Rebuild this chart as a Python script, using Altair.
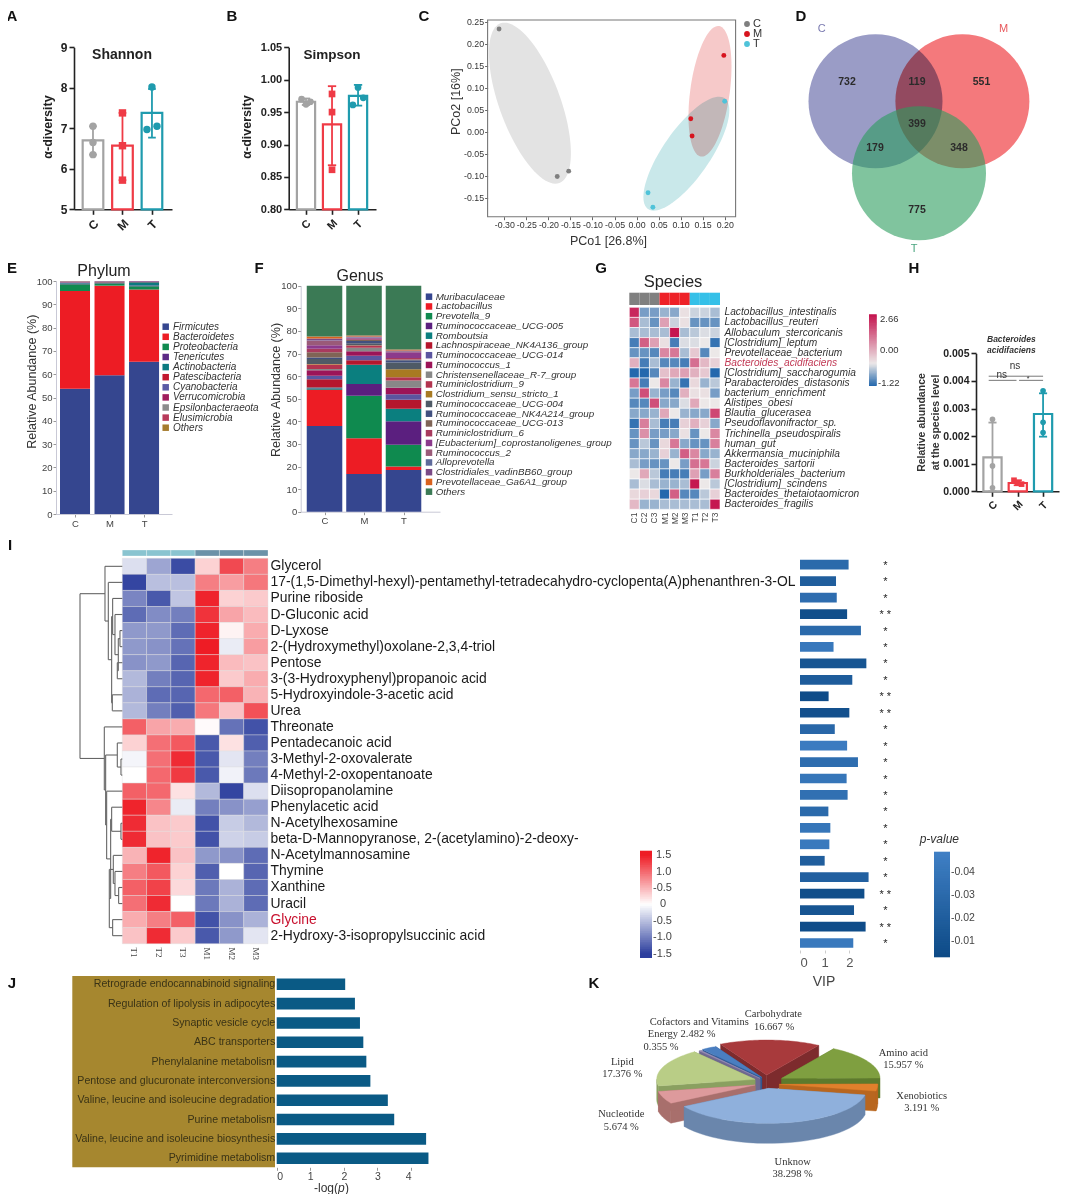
import math
import altair as alt
import numpy as np
import pandas as pd

W, H = 1052, 1186
FONT = "Liberation Sans"
SERIF = "Liberation Serif"
layers = []

# ---------- data ----------
groups3 = [1, 2, 3]
bar_colors = ["#a3a3a3", "#ef3b46", "#1f9bae"]
shannon_mean = [6.70, 6.57, 7.38]
shannon_lo = [6.35, 5.72, 6.77]
shannon_hi = [7.05, 7.38, 7.97]
shannon_pts = [(1, 7.05, 0), (1, 6.65, 0), (1, 6.35, 0), (2, 7.38, 1), (2, 6.57, 1), (2, 5.72, 1),
               (3, 8.02, 2), (2.83, 6.97, 2), (3.17, 7.05, 2)]
simpson_mean = [0.966, 0.931, 0.975]
simpson_lo = [0.961, 0.868, 0.960]
simpson_hi = [0.971, 0.990, 0.992]
simpson_pts = [(0.83, 0.970, 0), (1.0, 0.962, 0), (1.17, 0.966, 0), (2, 0.978, 1), (2, 0.950, 1), (2, 0.861, 1),
               (3, 0.988, 2), (2.8, 0.961, 2), (3.2, 0.972, 2)]
bfrag_mean = [0.00123, 0.00030, 0.00280]
bfrag_lo = [0.00000, 0.00022, 0.00198]
bfrag_hi = [0.00249, 0.00040, 0.00355]
bfrag_pts = [(1, 0.00261, 0), (1, 0.00092, 0), (1, 0.00013, 0), (1.85, 0.00040, 1), (2, 0.00030, 1), (2.15, 0.00026, 1),
             (3, 0.00364, 2), (3, 0.00250, 2), (3, 0.00213, 2)]

pcoa_groups = ["C", "M", "T"]
pcoa_colors = ["#7f7f7f", "#d7141e", "#4fc3d9"]
pcoa_x = [-0.312, -0.180, -0.154, 0.198, 0.123, 0.126, 0.200, 0.026, 0.037]
pcoa_y = [0.234, -0.101, -0.089, 0.174, 0.030, -0.009, 0.070, -0.138, -0.171]
pcoa_g = ["C", "C", "C", "M", "M", "M", "T", "T", "T"]
pcoa_ellipses = [(-0.242, 0.0655, 0.093, 0.183, -0.62, "#e3e3e3"),
                 (0.1666, 0.0925, 0.0488, 0.1484, 0.38, "#f6c9c9"),
                 (0.113, -0.0493, 0.0975, 0.1295, 0.76, "#c9e8ea")]

venn_x = [875.5, 962.4, 919.0]
venn_y = [101.3, 101.3, 173.3]
venn_counts = ["732", "119", "551", "399", "179", "348", "775"]
venn_cx = [847, 917, 981.5, 917, 875, 959, 917]
venn_cy = [81.7, 81.7, 81.7, 124, 148, 148, 210]

phylum_names = ["Firmicutes", "Bacteroidetes", "Proteobacteria", "Tenericutes", "Actinobacteria", "Patescibacteria",
                "Cyanobacteria", "Verrucomicrobia", "Epsilonbacteraeota", "Elusimicrobia", "Others"]
phylum_colors = ["#35468f", "#ed1c24", "#0f8a4f", "#5b2a86", "#0b7a80", "#c2182f", "#5a5aa5", "#a01c5c", "#8c8c8c", "#b83a5a", "#a67c2e"]
phylum_C = [53.8, 41.9, 2.9, 0.3, 0.3, 0.2, 0.3, 0.1, 0.1, 0.05, 0.05]
phylum_M = [59.5, 38.5, 1.0, 0.2, 0.2, 0.2, 0.2, 0.1, 0.05, 0.025, 0.025]
phylum_T = [65.3, 31.0, 1.5, 0.3, 1.4, 0.2, 0.2, 0.05, 0.03, 0.01, 0.01]

genus_names = ["Muribaculaceae", "Lactobacillus", "Prevotella_9", "Ruminococcaceae_UCG-005", "Romboutsia",
               "Lachnospiraceae_NK4A136_group", "Ruminococcaceae_UCG-014", "Ruminococcus_1", "Christensenellaceae_R-7_group",
               "Ruminiclostridium_9", "Clostridium_sensu_stricto_1", "Ruminococcaceae_UCG-004", "Ruminococcaceae_NK4A214_group",
               "Ruminococcaceae_UCG-013", "Ruminiclostridium_6", "[Eubacterium]_coprostanoligenes_group", "Ruminococcus_2",
               "Alloprevotella", "Clostridiales_vadinBB60_group", "Prevotellaceae_Ga6A1_group", "Others"]
genus_colors = ["#35468f", "#ed1c24", "#0f8a4f", "#5b1f7f", "#0b7f7f", "#b5172d", "#5b55a0", "#9c1458", "#888888", "#b2344f",
                "#a87a22", "#4f5a66", "#41507f", "#7f6456", "#a83a5e", "#8c3a8c", "#9a5a78", "#5e6a9a", "#7a4a86", "#d9621e", "#3b7a55"]
genus_C = [37.9, 15.9, 0.4, 0.3, 0.5, 3.6, 1.5, 2.5, 0.5, 2.0, 0.2, 2.3, 0.6, 2.4, 1.5, 1.5, 2.0, 0.2, 0.8, 0.9, 22.5]
genus_M = [16.7, 15.8, 18.8, 5.2, 8.5, 2.0, 2.0, 2.0, 1.5, 1.0, 0.1, 0.9, 1.0, 0.5, 0.3, 0.5, 0.2, 0.2, 0.3, 0.5, 22.0]
genus_T = [18.4, 1.6, 9.6, 10.4, 5.5, 4.0, 2.5, 2.8, 3.2, 1.5, 3.5, 3.0, 1.0, 0.3, 0.7, 2.5, 0.5, 0.1, 0.2, 0.5, 28.2]

species_names = ["Lactobacillus_intestinalis", "Lactobacillus_reuteri", "Allobaculum_stercoricanis", "[Clostridium]_leptum",
                 "Prevotellaceae_bacterium", "Bacteroides_acidifaciens", "[Clostridium]_saccharogumia", "Parabacteroides_distasonis",
                 "bacterium_enrichment", "Alistipes_obesi", "Blautia_glucerasea", "Pseudoflavonifractor_sp.",
                 "Trichinella_pseudospiralis", "human_gut", "Akkermansia_muciniphila", "Bacteroides_sartorii",
                 "Burkholderiales_bacterium", "[Clostridium]_scindens", "Bacteroides_thetaiotaomicron", "Bacteroides_fragilis"]
species_samples = ["C1", "C2", "C3", "M1", "M2", "M3", "T1", "T2", "T3"]
species_vals = [
    [2.4, -.7, -.7, -.5, -.6, .1, -.2, -.2, -.4], [1.8, -.4, -.8, .9, -.2, .1, -.8, -.8, -.8],
    [-.4, -.4, -.4, -.4, 2.6, -.4, -.3, -.1, -.2], [-1.0, 1.7, .9, .1, -1.0, -.1, -.1, .0, -1.1],
    [-.8, -.8, -.9, 1.2, 1.4, -.4, .4, -.9, 0], [.7, -1.0, -.4, -.9, -.9, -1.0, 1.5, .6, .3],
    [-1.2, -1.2, -.9, .5, .8, .9, .7, .4, -1.2], [1.4, -1.0, .0, 1.2, -.5, -1.1, .2, -.5, -.3],
    [-.7, 1.9, -.5, -.7, -.9, .7, .1, .1, -.7], [-.9, -.9, 1.9, -.6, -.6, -.1, .8, 0, 0],
    [-.6, -.6, -.5, .8, .0, -.5, -.6, -.6, 2.0], [-1.1, 1.3, -.4, -1.0, -1.0, .3, .7, .3, -.6],
    [-.8, 1.1, -.7, -.7, -.6, .1, -.8, 0, 1.2], [-.8, -.3, -.8, .2, 1.4, -.6, -.8, -.8, 1.3],
    [-.6, -.6, -.5, .3, -.5, 1.7, 1.2, -.6, -.5], [-.4, -.7, -.8, -.8, 0, -.7, 1.5, 1.4, -.2],
    [0, .8, -.3, -1.0, -1.0, -1.0, .9, -.7, 1.3], [-.4, -.1, -.4, -.5, -.5, -.4, 2.6, 0, -.3],
    [.2, .3, .2, -1.2, 1.7, -.9, -.9, -.3, .3], [.6, -.5, -.5, -.4, -.4, -.4, -.4, -.4, 2.6]]

metab_names = ["Glycerol", "17-(1,5-Dimethyl-hexyl)-pentamethyl-tetradecahydro-cyclopenta(A)phenanthren-3-OL", "Purine riboside",
               "D-Gluconic acid", "D-Lyxose", "2-(Hydroxymethyl)oxolane-2,3,4-triol", "Pentose", "3-(3-Hydroxyphenyl)propanoic acid",
               "5-Hydroxyindole-3-acetic acid", "Urea", "Threonate", "Pentadecanoic acid", "3-Methyl-2-oxovalerate",
               "4-Methyl-2-oxopentanoate", "Diisopropanolamine", "Phenylacetic acid", "N-Acetylhexosamine",
               "beta-D-Mannopyranose, 2-(acetylamino)-2-deoxy-", "N-Acetylmannosamine", "Thymine", "Xanthine", "Uracil", "Glycine",
               "2-Hydroxy-3-isopropylsuccinic acid"]
metab_samples = ["T1", "T2", "T3", "M1", "M2", "M3"]
metab_vals = [
    [-.25, -.7, -1.4, .3, 1.2, .85], [-1.45, -.5, -.5, .85, .65, .9], [-.95, -1.3, -.45, 1.45, .3, .35],
    [-1.15, -.9, -1.0, 1.35, .6, .45], [-.8, -.8, -1.15, 1.45, .08, .55], [-.8, -.85, -1.1, 1.5, -.15, .65],
    [-.85, -.8, -1.2, 1.45, .45, .4], [-.55, -1.0, -1.2, 1.45, .35, .55], [-.6, -1.15, -1.2, 1.0, 1.05, .5],
    [-.55, -1.0, -1.25, .9, .4, 1.15], [1.05, .6, .55, .03, -1.1, -1.35], [.3, .95, 1.1, -1.3, .2, -1.25],
    [-.08, .95, 1.4, -1.3, -.2, -1.0], [0, 1.0, 1.3, -1.3, -.1, -1.05], [1.05, 1.0, .2, -.55, -1.45, -.25],
    [1.45, .8, -.15, -1.0, -.85, -.75], [1.4, .4, .35, -1.35, -.4, -.55], [1.4, .4, .35, -1.35, -.35, -.4],
    [.5, 1.45, .4, -.8, -.85, -1.15], [.85, 1.1, .3, -1.25, .0, -1.2], [1.05, 1.25, .25, -1.05, -.6, -1.15],
    [.95, 1.4, 0, -1.05, -.6, -1.15], [.55, .85, 1.05, -1.35, -.85, -.6], [.4, 1.4, .35, -1.3, -.8, -.2]]
vip_vals = [1.97, 1.46, 1.49, 1.91, 2.47, 1.36, 2.69, 2.12, 1.16, 2.0, 1.41, 1.91, 2.35, 1.89, 1.93, 1.15, 1.23, 1.19, 1.0, 2.78, 2.61, 2.19, 2.66, 2.16]
vip_p = [.03, .02, .033, .006, .03, .042, .012, .018, .005, .008, .028, .045, .033, .04, .035, .03, .04, .043, .02, .022, .006, .012, .005, .043]
vip_stars = ["*", "*", "*", "**", "*", "*", "*", "*", "**", "**", "*", "*", "*", "*", "*", "*", "*", "*", "*", "*", "**", "*", "**", "*"]
dendro_tree = (60,
               (135, 0, (145, 1, (155, (158, 2, (165, 3, (175, (180, 4, 5), (172, 6, 7)))), (157, 8, 9)))),
               (133, 10, (137, (172, 11, (183, 12, 13)),
                          (140, 14, (152, (155, 15, (183, 16, 17)),
                                     (148, (160, 18, (165, 19, (176, 20, 21))), (158, 22, 23)))))))

pathway_names = ["Retrograde endocannabinoid signaling", "Regulation of lipolysis in adipocytes", "Synaptic vesicle cycle",
                 "ABC transporters", "Phenylalanine metabolism", "Pentose and glucuronate interconversions",
                 "Valine, leucine and isoleucine degradation", "Purine metabolism", "Valine, leucine and isoleucine biosynthesis",
                 "Pyrimidine metabolism"]
pathway_vals = [2.04, 2.33, 2.48, 2.58, 2.67, 2.79, 3.31, 3.50, 4.45, 4.52]

pie_names = ["Carbohydrate", "Amino acid", "Xenobiotics", "Unknow", "Nucleotide", "Lipid", "Energy", "Cofactors and Vitamins"]
pie_shares = [16.667, 15.957, 3.191, 38.298, 5.674, 17.376, 0.355, 2.482]
pie_top = ["#a83a3c", "#7f9f40", "#e0802c", "#8fb0dc", "#dd9a9c", "#b9cd86", "#9a90b8", "#4a7ec0"]
pie_side = ["#7d2b2d", "#5d7a2c", "#b8661f", "#6a86ac", "#a86f6c", "#8aa060", "#6f6890", "#2f5a95"]
pie_shift = [(0, -20), (45, -10), (38, 8), (5, 20), (-35, 10), (-35, -7), (-20, -10), (-15, -13)]


# ---------- helpers ----------
def sc(d, a, b, **k):
    return alt.Scale(domain=d, range=[a - 8, b - 8], nice=False, zero=False, **k)


def band(names, a, b, inner=0.0, outer=0.0):
    return alt.Scale(domain=list(names), range=[a - 8, b - 8], paddingInner=inner, paddingOuter=outer)


one = alt.Data(values=[{}])


def label(txt, x, y, size=10, color="#222222", font=FONT, weight="normal", style="normal", align="center", angle=0):
    layers.append(alt.Chart(one).mark_text(text=txt, fontSize=size, color=color, font=font, fontWeight=weight,
                                           fontStyle=style, align=align, angle=angle, baseline="middle")
                  .encode(x=alt.value(x - 8), y=alt.value(y - 8)))


def left_axis(x, **k):
    return alt.Axis(orient="left", offset=-(x - 8), title=None, grid=False, **k)


def bottom_axis(y, **k):
    return alt.Axis(orient="bottom", offset=(y - 8) - H, title=None, grid=False, **k)


def box(x0, x1, y0, y1, fill=None, stroke=None, sw=1):
    kw = {"fill": fill if fill else "transparent"}
    if stroke:
        kw.update(stroke=stroke, strokeWidth=sw)
    layers.append(alt.Chart(one).mark_rect(**kw).encode(x=alt.value(x0 - 8), x2=alt.value(x1 - 8),
                                                        y=alt.value(y0 - 8), y2=alt.value(y1 - 8)))


def bar_panel(x0, x1, ytop, ybot, xdom, ydom, yticks, fmt, halfw, means, lows, highs, pts, lsize, psize, capw, xpad):
    xs = sc(xdom, x0, x1)
    ys = sc(ydom, ybot, ytop)
    base = ydom[0]
    style = dict(domainColor="#222222", tickColor="#222222", domainWidth=1.6, tickWidth=1.6, tickSize=5,
                 labelColor="#222222", labelFontWeight="bold", labelFontSize=lsize)
    xax = bottom_axis(ybot, values=groups3, labelExpr="['','C','M','T'][datum.value]", labelAngle=315, labelAlign="center",
                      labelBaseline="middle", labelPadding=xpad, **style)
    yax = left_axis(x0, values=yticks, format=fmt, labelPadding=2, **style)
    d = pd.DataFrame({"g": groups3, "mean": means, "lo": lows, "hi": highs, "c": bar_colors, "base": base})
    d["a"] = d.g - halfw
    d["b"] = d.g + halfw
    d["ca"] = d.g - capw
    d["cb"] = d.g + capw
    cs = alt.Scale(domain=bar_colors, range=bar_colors)
    layers.append(alt.Chart(d).mark_rect(fill="white", strokeWidth=2.2).encode(
        x=alt.X("a:Q", scale=xs, axis=xax), x2="b:Q", y=alt.Y("mean:Q", scale=ys, axis=yax), y2="base:Q",
        stroke=alt.Stroke("c:N", scale=cs, legend=None)))
    layers.append(alt.Chart(d).mark_rule(strokeWidth=1.8).encode(
        x=alt.X("g:Q", scale=xs, axis=None), y=alt.Y("lo:Q", scale=ys, axis=None), y2="hi:Q",
        color=alt.Color("c:N", scale=cs, legend=None)))
    for f in ("lo", "hi"):
        layers.append(alt.Chart(d).mark_rule(strokeWidth=1.8).encode(
            x=alt.X("ca:Q", scale=xs, axis=None), x2="cb:Q", y=alt.Y(f + ":Q", scale=ys, axis=None),
            color=alt.Color("c:N", scale=cs, legend=None)))
    p = pd.DataFrame(pts, columns=["x", "y", "i"])
    p["c"] = [bar_colors[i] for i in p.i]
    p["s"] = ["C" if i == 0 else ("M" if i == 1 else "T") for i in p.i]
    layers.append(alt.Chart(p).mark_point(filled=True, opacity=1, size=psize).encode(
        x=alt.X("x:Q", scale=xs, axis=None), y=alt.Y("y:Q", scale=ys, axis=None),
        color=alt.Color("c:N", scale=cs, legend=None),
        shape=alt.Shape("s:N", scale=alt.Scale(domain=["C", "M", "T"], range=["circle", "square", "circle"]), legend=None)))


def stacked(names, colors, series, x0, x1, ytop, ybot, xdom, halfw):
    rows = []
    for g, s in zip(groups3, series):
        cum = 0.0
        for n, v in zip(names, s):
            rows.append({"g": g, "a": g - halfw, "b": g + halfw, "n": n, "y0": cum, "y1": cum + v})
            cum += v
    d = pd.DataFrame(rows)
    style = dict(domainColor="#c9c9d6", tickColor="#999999", tickSize=3, labelColor="#444444", labelFontSize=9.5, labelPadding=1)
    layers.append(alt.Chart(d).mark_rect().encode(
        x=alt.X("a:Q", scale=sc(xdom, x0, x1),
                axis=bottom_axis(ybot, values=groups3, labelExpr="['','C','M','T'][datum.value]", **style)),
        x2="b:Q",
        y=alt.Y("y0:Q", scale=sc([0, 100], ybot, ytop), axis=left_axis(x0, values=list(range(0, 101, 10)), **style)),
        y2="y1:Q",
        color=alt.Color("n:N", scale=alt.Scale(domain=names, range=colors), legend=None)))


def name_legend(names, colors, xsq, xtxt, y0, y1, size):
    d = pd.DataFrame({"n": names})
    ys = alt.Scale(type="point", domain=names, range=[y0 - 8, y1 - 8], padding=0)
    layers.append(alt.Chart(d).mark_square(size=42, opacity=1).encode(
        x=alt.value(xsq - 8), y=alt.Y("n:N", scale=ys, sort=names, axis=None),
        color=alt.Color("n:N", scale=alt.Scale(domain=names, range=colors), legend=None)))
    layers.append(alt.Chart(d).mark_text(align="left", fontStyle="italic", fontSize=size, color="#333333").encode(
        x=alt.value(xtxt - 8), y=alt.Y("n:N", scale=ys, sort=names, axis=None), text="n:N"))


def gradient(x0, x1, ytop, ybot, dtop, dbot, cdom, crange, n=60):
    edges = np.linspace(dbot, dtop, n + 1)
    step = edges[1] - edges[0]
    d = pd.DataFrame({"a": edges[:-1], "b": np.minimum(edges[1:] + step * 0.6, dtop) if dtop > dbot else np.maximum(edges[1:] + step * 0.6, dtop)})
    d["m"] = edges[:-1] + step / 2
    layers.append(alt.Chart(d).mark_rect().encode(
        x=alt.value(x0 - 8), x2=alt.value(x1 - 8),
        y=alt.Y("a:Q", scale=sc([dbot, dtop], ybot, ytop), axis=None), y2="b:Q",
        color=alt.Color("m:Q", scale=alt.Scale(domain=cdom, range=crange, clamp=True, interpolate="rgb"), legend=None)))


# ---------- A, B ----------
label("A", 12, 16, 15, "#111111", weight="bold")
label("B", 232, 16, 15, "#111111", weight="bold")
bar_panel(74, 172, 47.3, 209.3, [0.356, 3.68], [5, 9], [5, 6, 7, 8, 9], "d", 0.35, shannon_mean, shannon_lo, shannon_hi, shannon_pts, 12, 55, 0.13, 10)
label("Shannon", 122, 55, 14, "#222222", weight="bold")
label("α-diversity", 48, 127, 12.5, "#222222", weight="bold", angle=270)
bar_panel(288.7, 376, 47.3, 209.3, [0.335, 3.69], [0.80, 1.05], [0.80, 0.85, 0.90, 0.95, 1.00, 1.05], ".2f", 0.35, simpson_mean, simpson_lo, simpson_hi, simpson_pts, 11, 45, 0.16, 10)
label("Simpson", 332, 55, 13.5, "#222222", weight="bold")
label("α-diversity", 247, 127, 12.5, "#222222", weight="bold", angle=270)

# ---------- C ----------
label("C", 424, 16, 15, "#111111", weight="bold")
xsC = sc([-0.338, 0.2247], 487.6, 735.6)
ysC = sc([-0.1925, 0.2545], 216.7, 20)
for cx, cy, ax, ay, rho, col in pcoa_ellipses:
    phi = math.acos(rho)
    t = np.linspace(0, 2 * math.pi, 90, endpoint=False)
    d = pd.DataFrame({"x": cx + ax * np.cos(t), "y": cy + ay * np.cos(t - phi), "o": range(90)})
    layers.append(alt.Chart(d).mark_line(fill=col, strokeWidth=0, interpolate="linear-closed", blend="multiply").encode(
        x=alt.X("x:Q", scale=xsC, axis=None), y=alt.Y("y:Q", scale=ysC, axis=None), order="o:Q"))
box(487.6, 735.6, 20, 216.7, stroke="#777777", sw=1.1)
axC = dict(domain=False, tickColor="#666666", tickSize=3, labelColor="#333333", labelFontSize=8.8, labelPadding=1,
           labelExpr="replace(format(datum.value, '.2f'), '−', '-')")
dC = pd.DataFrame({"x": pcoa_x, "y": pcoa_y, "g": pcoa_g})
layers.append(alt.Chart(dC).mark_circle(size=24, opacity=1).encode(
    x=alt.X("x:Q", scale=xsC, axis=bottom_axis(216.7, values=[round(-0.30 + 0.05 * i, 2) for i in range(11)], **axC)),
    y=alt.Y("y:Q", scale=ysC, axis=left_axis(487.6, values=[round(-0.15 + 0.05 * i, 2) for i in range(9)], **axC)),
    color=alt.Color("g:N", scale=alt.Scale(domain=pcoa_groups, range=pcoa_colors), legend=None)))
label("PCo1 [26.8%]", 608.5, 240.5, 12.5, "#333333")
label("PCo2 [16%]", 456, 101.7, 12.5, "#333333", angle=270)
dL = pd.DataFrame({"g": pcoa_groups})
ysL = alt.Scale(type="point", domain=pcoa_groups, range=[24 - 8, 44 - 8], padding=0)
layers.append(alt.Chart(dL).mark_circle(size=34, opacity=1).encode(
    x=alt.value(747 - 8), y=alt.Y("g:N", scale=ysL, axis=None),
    color=alt.Color("g:N", scale=alt.Scale(domain=pcoa_groups, range=pcoa_colors), legend=None)))
layers.append(alt.Chart(dL).mark_text(align="left", fontSize=11, color="#333333").encode(
    x=alt.value(753 - 8), y=alt.Y("g:N", scale=ysL, axis=None), text="g:N"))

# ---------- D ----------
label("D", 801, 16, 15, "#111111", weight="bold")
xsD = sc([800, 1040], 800, 1040)
ysD = sc([0, 250], 0, 250)
venn_size = 17956
venn_df = [pd.DataFrame({"x": [a], "y": [b]}) for a, b in zip(venn_x, venn_y)]
layers.append(alt.Chart(venn_df[0]).mark_circle(size=venn_size, opacity=1, color="#9a9cc6").encode(
    x=alt.X("x:Q", scale=xsD, axis=None), y=alt.Y("y:Q", scale=ysD, axis=None)))
layers.append(alt.Chart(venn_df[1]).mark_circle(size=venn_size, opacity=1, color="#f4797c", blend="multiply").encode(
    x=alt.X("x:Q", scale=xsD, axis=None), y=alt.Y("y:Q", scale=ysD, axis=None)))
layers.append(alt.Chart(venn_df[2]).mark_circle(size=venn_size, opacity=0.6, color="#2b9d5d").encode(
    x=alt.X("x:Q", scale=xsD, axis=None), y=alt.Y("y:Q", scale=ysD, axis=None)))
layers.append(alt.Chart(pd.DataFrame({"x": venn_cx, "y": venn_cy, "t": venn_counts})).mark_text(fontSize=10.5, color="#2b2b2b", fontWeight="bold").encode(
    x=alt.X("x:Q", scale=xsD, axis=None), y=alt.Y("y:Q", scale=ysD, axis=None), text="t:N"))
label("C", 821.6, 29, 11, "#7a7ab0")
label("M", 1003.6, 29, 11, "#e8585c")
label("T", 914, 249, 11, "#4aa57f")

# ---------- E ----------
label("E", 12, 268, 15, "#111111", weight="bold")
stacked(phylum_names, phylum_colors, [phylum_C, phylum_M, phylum_T], 56, 172, 281, 514, [0.449, 3.81], 0.435)
label("Phylum", 104, 270.7, 16, "#222222")
label("Relative Abundance (%)", 32, 381.7, 12.5, "#333333", angle=270)
name_legend(phylum_names, phylum_colors, 165.7, 173, 326.7, 427.7, 10)

# ---------- F ----------
label("F", 259, 268, 15, "#111111", weight="bold")
stacked(genus_names, genus_colors, [genus_C, genus_M, genus_T], 300.7, 440, 285.7, 511.7, [0.397, 3.924], 0.45)
label("Genus", 360, 276, 16, "#222222")
label("Relative Abundance (%)", 276, 390, 12.5, "#333333", angle=270)
name_legend(genus_names, genus_colors, 429, 435.7, 296.7, 491.7, 9.8)

# ---------- G ----------
label("G", 601, 268, 15, "#111111", weight="bold")
label("Species", 673, 282.3, 16.5, "#222222")
gx = band(species_samples, 629.3, 720)
rows = [{"s": s, "n": n, "v": species_vals[i][j]} for i, n in enumerate(species_names) for j, s in enumerate(species_samples)]
species_dom, species_col = [-1.22, 0, 2.66], ["#2166ac", "#ece8e8", "#c4124d"]
layers.append(alt.Chart(pd.DataFrame(rows)).mark_rect(stroke="white", strokeWidth=0.6).encode(
    x=alt.X("s:N", scale=gx, sort=species_samples,
            axis=bottom_axis(510, domain=False, ticks=False, labelAngle=270, labelAlign="right", labelBaseline="middle",
                             labelFontSize=8.5, labelColor="#444444", labelPadding=2)),
    y=alt.Y("n:N", scale=band(species_names, 307.3, 509.3), sort=species_names,
            axis=alt.Axis(orient="right", offset=(720 - 8) - W, title=None, domain=False, ticks=False, grid=False,
                          labelFontSize=10.2, labelFontStyle="italic", labelPadding=4, labelLimit=400, labelOverlap=False,
                          labelColor={"expr": "datum.value == 'Bacteroides_acidifaciens' ? '#c23a55' : '#333333'"})),
    color=alt.Color("v:Q", scale=alt.Scale(domain=species_dom, range=species_col, interpolate="rgb"), legend=None)))
annG = pd.DataFrame({"s": species_samples, "g": [s[0] for s in species_samples]})
layers.append(alt.Chart(annG).mark_rect().encode(
    x=alt.X("s:N", scale=gx, sort=species_samples, axis=None), y=alt.value(292.7 - 8), y2=alt.value(305 - 8),
    color=alt.Color("g:N", scale=alt.Scale(domain=["C", "M", "T"], range=["#808080", "#ee2228", "#35c0e8"]), legend=None)))
gradient(869, 876.7, 314.3, 386, 2.66, -1.22, species_dom, species_col)
label("2.66", 880, 319, 9.5, "#333333", align="left")
label("0.00", 880, 350.3, 9.5, "#333333", align="left")
label("-1.22", 878, 383, 9.5, "#333333", align="left")

# ---------- H ----------
label("H", 914, 268, 15, "#111111", weight="bold")
bar_panel(976, 1059, 353.3, 491.3, [0.348, 3.63], [0, 0.005], [0, 0.001, 0.002, 0.003, 0.004, 0.005], ".3f", 0.36, bfrag_mean, bfrag_lo, bfrag_hi, bfrag_pts, 10.5, 32, 0.16, 9)
label("Bacteroides", 987, 339, 8.5, "#333333", weight="bold", style="italic", align="left")
label("acidifaciens", 987, 350, 8.5, "#333333", weight="bold", style="italic", align="left")
label("Relative abundance", 921.7, 422.5, 10.5, "#333333", weight="bold", angle=270)
label("at the species level", 936, 422.5, 10.5, "#333333", weight="bold", angle=270)
xsH = sc([0.348, 3.63], 976, 1059)
ysH = sc([0, 0.005], 491.3, 353.3)
brk = pd.DataFrame({"a": [0.85, 0.85, 2.05], "b": [3.0, 1.95, 3.0], "y": [0.00417, 0.00402, 0.00402]})
layers.append(alt.Chart(brk).mark_rule(color="#555555", strokeWidth=0.8).encode(
    x=alt.X("a:Q", scale=xsH, axis=None), x2="b:Q", y=alt.Y("y:Q", scale=ysH, axis=None)))
label("ns", 1015, 366, 10, "#333333")
label("ns", 1001.7, 375, 10, "#333333")
label("*", 1028, 379, 7, "#333333")

# ---------- I ----------
label("I", 10, 545, 15, "#111111", weight="bold")
ix = band(metab_samples, 122.3, 268)
rows = [{"s": s, "n": n, "v": metab_vals[i][j]} for i, n in enumerate(metab_names) for j, s in enumerate(metab_samples)]
heat_dom, heat_col = [-1.5, 0, 1.5], ["#2d3f9e", "#ffffff", "#ee1c25"]
layers.append(alt.Chart(pd.DataFrame(rows)).mark_rect(stroke="#dddddd", strokeWidth=0.4).encode(
    x=alt.X("s:N", scale=ix, sort=metab_samples,
            axis=bottom_axis(944, domain=False, ticks=False, labelAngle=90, labelAlign="left", labelBaseline="middle", labelFont=SERIF,
                             labelFontSize=9, labelColor="#444444", labelPadding=3)),
    y=alt.Y("n:N", scale=band(metab_names, 558.3, 943.7), sort=metab_names,
            axis=alt.Axis(orient="right", offset=(268 - 8) - W, title=None, domain=False, ticks=False, grid=False,
                          labelFontSize=13.9, labelPadding=2, labelLimit=700, labelOverlap=False,
                          labelColor={"expr": "datum.value == 'Glycine' ? '#c8102e' : '#1a1a1a'"})),
    color=alt.Color("v:Q", scale=alt.Scale(domain=heat_dom, range=heat_col, interpolate="rgb"), legend=None)))
annI = pd.DataFrame({"s": metab_samples, "g": [s[0] for s in metab_samples]})
layers.append(alt.Chart(annI).mark_rect(stroke="white", strokeWidth=0.3).encode(
    x=alt.X("s:N", scale=ix, sort=metab_samples, axis=None), y=alt.value(550 - 8), y2=alt.value(556 - 8),
    color=alt.Color("g:N", scale=alt.Scale(domain=["T", "M"], range=["#8ac4d0", "#6b92a8"]), legend=None)))

segs = []


def walk(node):
    if isinstance(node, int):
        return 187.0, float(node)
    h, l, r = node
    lx, ly = walk(l)
    rx, ry = walk(r)
    segs.append({"a": h, "b": lx, "y": ly, "y2": ly})
    segs.append({"a": h, "b": rx, "y": ry, "y2": ry})
    segs.append({"a": h, "b": h, "y": ly, "y2": ry})
    return h, (ly + ry) / 2


walk(dendro_tree)
layers.append(alt.Chart(pd.DataFrame(segs)).mark_rule(color="#666666", strokeWidth=1.1).encode(
    x=alt.X("a:Q", scale=sc([60, 187], 80, 122.3), axis=None), x2="b:Q",
    y=alt.Y("y:Q", scale=sc([-0.5, 23.5], 558.3, 943.7), axis=None), y2="y2:Q"))

ivip = band(metab_names, 556.5, 951.2, inner=0.41, outer=0.205)
dV = pd.DataFrame({"n": metab_names, "v": vip_vals, "p": vip_p, "s": [("* *" if s == "**" else s) for s in vip_stars]})
pcol_dom, pcol = [0.003, 0.048], ["#0d4a86", "#3f7fc4"]
layers.append(alt.Chart(dV).mark_bar().encode(
    x=alt.X("v:Q", scale=sc([0, 3], 800, 874),
            axis=bottom_axis(950, values=[0, 1, 2], domain=False, tickColor="#cccccc", tickSize=3, labelFontSize=13, labelColor="#555555", labelPadding=3)),
    y=alt.Y("n:N", scale=ivip, sort=metab_names, axis=None),
    color=alt.Color("p:Q", scale=alt.Scale(domain=pcol_dom, range=pcol, interpolate="rgb"), legend=None)))
layers.append(alt.Chart(dV).mark_text(fontSize=11, color="#222222", dy=1).encode(
    x=alt.value(885.3 - 8), y=alt.Y("n:N", scale=ivip, sort=metab_names, axis=None), text="s:N"))
label("VIP", 824, 982, 14, "#444444")

gradient(640, 652, 850.7, 958, 1.63, -1.63, heat_dom, heat_col)
for t, yy, xx in [("1.5", 855, 656), ("1.0", 871.7, 656), ("-0.5", 888, 653), ("0", 904.3, 660),
                  ("-0.5", 921, 653), ("-1.0", 937, 653), ("-1.5", 953.5, 653)]:
    label(t, xx, yy, 11, "#444444", align="left")
gradient(934, 950, 851.7, 957.3, 0.049, 0.0029, pcol_dom, pcol)
label("p-value", 939.3, 839.3, 12, "#333333", style="italic")
for t, yy in [("0.04", 872.3), ("0.03", 895.3), ("0.02", 918), ("0.01", 941)]:
    label("-" + t, 951, yy, 10.5, "#444444", align="left")

# ---------- J ----------
label("J", 12, 983, 15, "#111111", weight="bold")
box(72.3, 275, 976, 1167.3, fill="#a6872f")
dJ = pd.DataFrame({"n": pathway_names, "v": pathway_vals})
layers.append(alt.Chart(dJ).mark_bar(color="#0a5a85").encode(
    x=alt.X("v:Q", scale=sc([0, 4], 276.7, 411), axis=bottom_axis(1167.3, values=[0, 1, 2, 3, 4], domain=False, tickColor="#999999", tickSize=3, labelFontSize=10.5, labelColor="#444444", labelPadding=1)),
    y=alt.Y("n:N", scale=band(pathway_names, 974.6, 1167.9, inner=0.4, outer=0.2), sort=pathway_names,
            axis=left_axis(276.7, domain=False, ticks=False, labelFontSize=10.6, labelColor="#3a3316", labelPadding=2, labelLimit=400, labelOverlap=False, zindex=1))))
label("-log(", 338, 1188, 12, "#333333", align="right")
label("p", 338, 1188, 12, "#333333", style="italic", align="left")
label(")", 345, 1188, 12, "#333333", align="left")

# ---------- K ----------
label("K", 594, 983, 15, "#111111", weight="bold")
RX, RY, THICK = 295.0, 105.0, 60.0
CX, CY = 766.7, 1081.7
UNIT = RX / 3
xsK = sc([-1, 1], CX - UNIT, CX + UNIT)
ysK = sc([-1, 1], CY + UNIT, CY - UNIT)


def poly(pts, fill):
    d = pd.DataFrame(pts, columns=["x", "y"])
    d["o"] = range(len(d))
    layers.append(alt.Chart(d).mark_line(fill=fill, stroke=fill, strokeWidth=0.4, interpolate="linear-closed").encode(
        x=alt.X("x:Q", scale=xsK, axis=None), y=alt.Y("y:Q", scale=ysK, axis=None), order="o:Q"))


def pt(t, ox, oy, drop=0.0):
    r = math.radians(t)
    return (ox + math.sin(r), -(oy) / RX + (RY / RX) * math.cos(r) - drop)


starts, a = [], -28.0
for s in pie_shares:
    starts.append((a, a + s * 3.6))
    a += s * 3.6
order = sorted(range(len(pie_shares)),
               key=lambda i: pie_shift[i][1] / RX - (RY / RX) * math.cos(math.radians((starts[i][0] + starts[i][1]) / 2)))
drop = THICK / RX
for i in order:
    a0, a1 = starts[i]
    ox, oy = pie_shift[i][0] / RX, pie_shift[i][1]
    apex = (ox, -oy / RX)
    apex_d = (ox, -oy / RX - drop)
    for e in (a0, a1):
        poly([apex, pt(e, ox, oy), pt(e, ox, oy, drop), apex_d], pie_side[i])
    ang = np.arange(a0, a1 + 0.5, 1.5).tolist() + [a1]
    lo, hi = max(a0, 90), min(a1, 270)
    if hi > lo:
        arc = np.linspace(lo, hi, 30).tolist()
        poly([pt(t, ox, oy) for t in arc] + [pt(t, ox, oy, drop) for t in reversed(arc)], pie_side[i])
    poly([apex] + [pt(t, ox, oy) for t in ang], pie_top[i])

pie_labels = [("Carbohydrate", 773.3, 1014.3), ("16.667 %", 774, 1027), ("Cofactors and Vitamins", 699.3, 1021.7),
              ("Energy  2.482 %", 681.7, 1034.3), ("0.355 %", 661, 1046.7), ("Amino acid", 903.3, 1052.7), ("15.957 %", 903.3, 1065.3),
              ("Lipid", 622.3, 1061.7), ("17.376 %", 622.3, 1074.3), ("Xenobiotics", 921.7, 1096), ("3.191 %", 921.7, 1108.3),
              ("Nucleotide", 621.3, 1114.3), ("5.674 %", 621.3, 1126.7), ("Unknow", 792.7, 1161.7), ("38.298 %", 792.7, 1174)]
for t, x, y in pie_labels:
    label(t, x, y, 10.5, "#333333", font=SERIF)

chart = (alt.layer(*layers)
         .resolve_scale(x="independent", y="independent", color="independent", stroke="independent", shape="independent", size="independent")
         .resolve_axis(x="independent", y="independent")
         .properties(width=W, height=H, padding=0, autosize=alt.AutoSizeParams(type="none"), background="white")
         .configure(font=FONT)
         .configure_view(stroke=None))
chart.save("out.html", embed_options={"renderer": "svg", "actions": False})
